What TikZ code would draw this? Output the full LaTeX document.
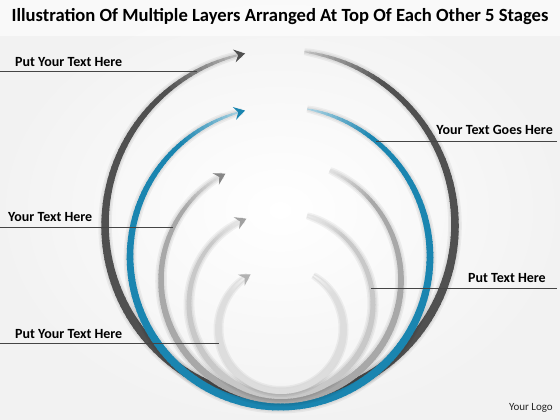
\documentclass[tikz,border=0pt]{standalone}
\usepackage{fontspec}
\setmainfont{Carlito}
\usetikzlibrary{arrows.meta}
\definecolor{ringA}{HTML}{505050}
\definecolor{ringB}{HTML}{1A85B0}
\definecolor{ringC}{HTML}{A8A8A8}
\definecolor{ringD}{HTML}{C8C8C8}
\definecolor{ringE}{HTML}{DDDDDD}
\definecolor{leader}{HTML}{454545}
\tikzset{
  declare function={ringw(\ra,\rp,\rq,\rw)=0.8+(\rw-0.8)*sqrt(abs(sin(((\rp-\ra)/(\rp-\rq))*180)));},
  lbl/.style={font=\bfseries\fontsize{14}{16}\selectfont, inner sep=0pt, text=black},
  leaderline/.style={draw=leader, line width=0.8pt},
  glow/.style={fill=black, opacity=0.05},
}
% cx cy r a1 a2 w extra
\newcommand\bandpath[7]{plot[domain=#5:#4,samples=160,variable=\t] ({#1+(#3+(ringw(\t,#4,#5,#6)+#7)/2)*cos(\t)},{#2-(#3+(ringw(\t,#4,#5,#6)+#7)/2)*sin(\t)}) -- plot[domain=#4:#5,samples=160,variable=\t] ({#1+(#3-(ringw(\t,#4,#5,#6)+#7)/2)*cos(\t)},{#2-(#3-(ringw(\t,#4,#5,#6)+#7)/2)*sin(\t)}) -- cycle}
% cx cy r a1 a2 w color arrowcolor
\newcommand\ringband[8]{%
  \fill[glow] \bandpath{#1}{#2}{#3}{#4}{#5}{#6}{6};
  \fill[glow] \bandpath{#1}{#2}{#3}{#4}{#5}{#6}{3};
  \pgfmathsetmacro\rSpan{#4-#5}
  \pgfmathtruncatemacro\rN{\rSpan/2}
  \pgfmathsetmacro\rStep{\rSpan/\rN}
  \foreach \k in {1,...,\rN}{
    \pgfmathsetmacro\rA{#5+\rStep*(\k-1)}
    \pgfmathsetmacro\rB{min(#4,#5+\rStep*\k+0.4)}
    \pgfmathsetmacro\rT{(#4-(\rA+\rB)/2)/\rSpan}
    \pgfmathsetmacro\rS{sin(\rT*180)}
    \pgfmathtruncatemacro\rP{35+65*min(1,\rS/0.25)}
    \pgfmathsetmacro\rWa{ringw(\rA,#4,#5,#6)/2}
    \pgfmathsetmacro\rWb{ringw(\rB,#4,#5,#6)/2}
    \fill[#7!\rP!white]
      ({#1+(#3+\rWa)*cos(\rA)},{#2-(#3+\rWa)*sin(\rA)}) --
      ({#1+(#3+\rWb)*cos(\rB)},{#2-(#3+\rWb)*sin(\rB)}) --
      ({#1+(#3-\rWb)*cos(\rB)},{#2-(#3-\rWb)*sin(\rB)}) --
      ({#1+(#3-\rWa)*cos(\rA)},{#2-(#3-\rWa)*sin(\rA)}) -- cycle;
  }
  \draw[#7!45!white, line width=0.9pt, -{Stealth[length=11pt,width=13pt,inset=4pt,color=#8]}]
    ({#1+#3*cos(#5)},{#2-#3*sin(#5)}) -- ++({3*sin(#5)},{3*cos(#5)});
}
\begin{document}
\begin{tikzpicture}[x=1pt,y=-1pt]
\useasboundingbox (0,0) rectangle (560,420);
\shade[inner color=white,outer color=black!5] (0,0) rectangle (560,420);
\fill[white,opacity=0.6] (0,0) rectangle (560,36);

% rings, outer first
\ringband{280}{225}{175}{82}{-257.5}{9}{ringA}{ringA}
\ringband{280}{256.5}{150}{79.6}{-255.4}{8}{ringB}{ringB}
\ringband{281}{280}{120}{66}{-241}{7}{ringC}{ringC!80!black}
\ringband{281}{304}{92}{73.6}{-246.1}{6}{ringD}{ringD!80!black}
\ringband{281}{329}{62.5}{59}{-238.2}{5}{ringE}{ringE!80!black}

% title
\node[font=\bfseries\fontsize{18.6}{21}\selectfont, inner sep=0pt] (title) at (280,17) {Illustration Of Multiple Layers Arranged At Top Of Each Other 5 Stages};

% labels and leaders
\node[lbl, anchor=west] (t1) at (15,62) {Put Your Text Here};
\coordinate (t1a) at (0,71);
\coordinate (t1b) at (197,71);
\draw[leaderline] (t1a) -- (t1b);

\node[lbl, anchor=east] (t2) at (553,130) {Your Text Goes Here};
\coordinate (t2a) at (557,141);
\coordinate (t2b) at (376,141);
\draw[leaderline] (t2a) -- (t2b);

\node[lbl, anchor=west] (t3) at (8,217) {Your Text Here};
\coordinate (t3a) at (0,227);
\coordinate (t3b) at (173,227);
\draw[leaderline] (t3a) -- (t3b);

\node[lbl, anchor=east] (t4) at (546,278) {Put Text Here};
\coordinate (t4a) at (557,288);
\coordinate (t4b) at (371,288);
\draw[leaderline] (t4a) -- (t4b);

\node[lbl, anchor=west] (t5) at (15,334) {Put Your Text Here};
\coordinate (t5a) at (0,343);
\coordinate (t5b) at (219,343);
\draw[leaderline] (t5a) -- (t5b);

\node[font=\fontsize{11}{13}\selectfont, inner sep=0pt, anchor=east, text=black!85] (logo) at (553,408) {Your Logo};
\end{tikzpicture}
\end{document}
